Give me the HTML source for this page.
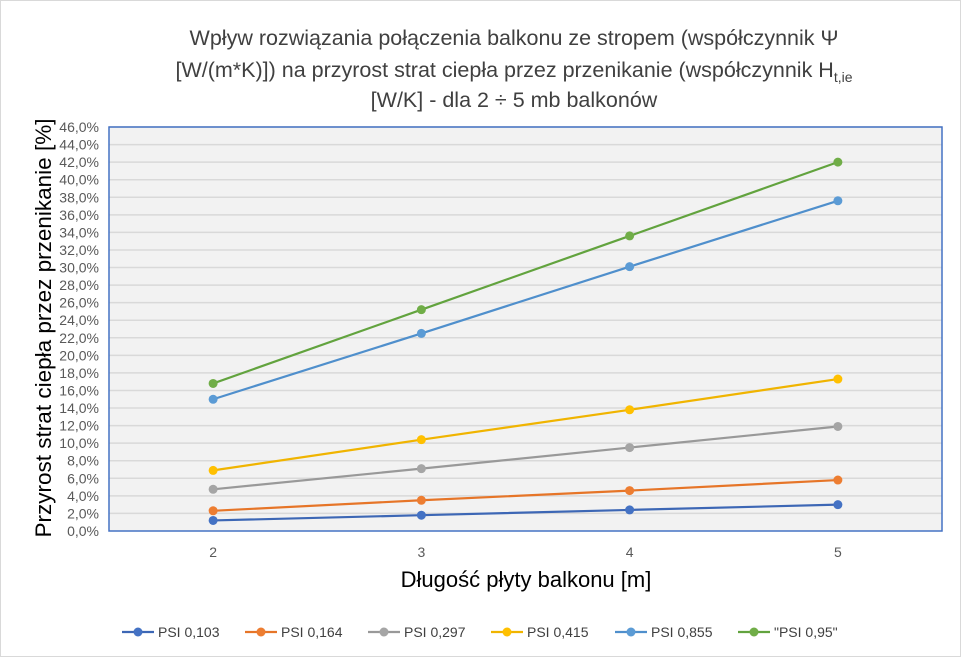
<!DOCTYPE html>
<html><head><meta charset="utf-8"><style>
html,body{margin:0;padding:0;background:#fff}
svg text{font-family:"Liberation Sans",sans-serif}
</style></head><body>
<svg width="962" height="658" viewBox="0 0 962 658" xmlns="http://www.w3.org/2000/svg">
<rect x="0.5" y="0.5" width="960" height="656" fill="#fff" stroke="#d9d9d9"/>
<g font-size="21.5" fill="#404040" text-anchor="middle">
<text x="514" y="45">Wpływ rozwiązania połączenia  balkonu ze stropem (współczynnik Ψ</text>
<text x="514" y="77">[W/(m*K)]) na przyrost strat ciepła przez przenikanie (współczynnik H<tspan font-size="14" dy="5">t,ie</tspan></text>
<text x="514" y="107">[W/K] - dla 2 ÷ 5 mb balkonów</text>
</g>
<rect x="109" y="127" width="833" height="404" fill="#f2f2f2"/>
<g id="grid"></g>
<rect x="109" y="127" width="833" height="404" fill="none" stroke="#4472c4" stroke-width="1.5"/>
<g id="yticks" font-size="14" fill="#595959" text-anchor="end"></g>
<g id="xticks" font-size="14" fill="#595959" text-anchor="middle"></g>
<g id="series"></g>
<text transform="translate(51,328) rotate(-90)" font-size="22.5" fill="#000" text-anchor="middle">Przyrost strat ciepła przez przenikanie [%]</text>
<text x="526" y="587" font-size="22" fill="#000" text-anchor="middle">Długość płyty balkonu [m]</text>
<g id="legend" font-size="14" fill="#404040"></g>
</svg>
<script>
const categories=["2","3","4","5"];
const seriesNames=["PSI 0,103","PSI 0,164","PSI 0,297","PSI 0,415","PSI 0,855","\"PSI 0,95\""];
const s1=[1.2,1.8,2.4,3.0];
const s2=[2.3,3.5,4.6,5.8];
const s3=[4.75,7.1,9.5,11.9];
const s4=[6.9,10.4,13.8,17.3];
const s5=[15.0,22.5,30.1,37.6];
const s6=[16.8,25.2,33.6,42.0];
const yTicks=[0,2,4,6,8,10,12,14,16,18,20,22,24,26,28,30,32,34,36,38,40,42,44,46];
const colors=["#4472c4","#ed7d31","#a5a5a5","#ffc000","#5b9bd5","#70ad47"];
const lineColors=["#3d67b5","#e67528","#999","#f0b400","#4f8fcc","#62a33e"];
const NS="http://www.w3.org/2000/svg";
const X0=109,W=833,Y0=531,H=404,YMAX=46;
const xs=i=>X0+W/categories.length*(i+0.5);
const ys=v=>Y0-v/YMAX*H;
function mk(t,a,p){const e=document.createElementNS(NS,t);for(const k in a)e.setAttribute(k,a[k]);p.appendChild(e);return e;}
const grid=document.getElementById('grid'),yt=document.getElementById('yticks'),xt=document.getElementById('xticks');
yTicks.forEach(v=>{
 if(v>0){const l=mk('line',{x1:X0,x2:X0+W,y1:ys(v),y2:ys(v),stroke:'#d9d9d9','stroke-width':1.5},grid);
 
 }
 const t=mk('text',{x:99,y:ys(v)+5},yt);t.textContent=v.toFixed(1).replace('.',',')+'%';
 
 
});
categories.forEach((c,i)=>{const t=mk('text',{x:xs(i),y:557},xt);t.textContent=c;
 
 });
const all=[s1,s2,s3,s4,s5,s6];
const sg=document.getElementById('series');
all.forEach((s,k)=>{
 const g=mk('g',{},sg);
 
 
 const pl=mk('polyline',{points:s.map((v,i)=>xs(i)+','+ys(v)).join(' '),fill:'none',stroke:lineColors[k],'stroke-width':2.2},g);
 
 
 s.forEach((v,i)=>{const c=mk('circle',{cx:xs(i),cy:ys(v),r:4.5,fill:colors[k]},g);
  
  });
});
const lg=document.getElementById('legend');
const lx=[122,245,368,491,615,738];
seriesNames.forEach((n,k)=>{
 const g=mk('g',{},lg);
 
 
 mk('line',{x1:lx[k],x2:lx[k]+32,y1:632,y2:632,stroke:lineColors[k],'stroke-width':2.2},g);
 mk('circle',{cx:lx[k]+16,cy:632,r:4.5,fill:colors[k]},g);
 const t=mk('text',{x:lx[k]+36,y:637},g);t.textContent=n;
});
</script>
</body></html>
